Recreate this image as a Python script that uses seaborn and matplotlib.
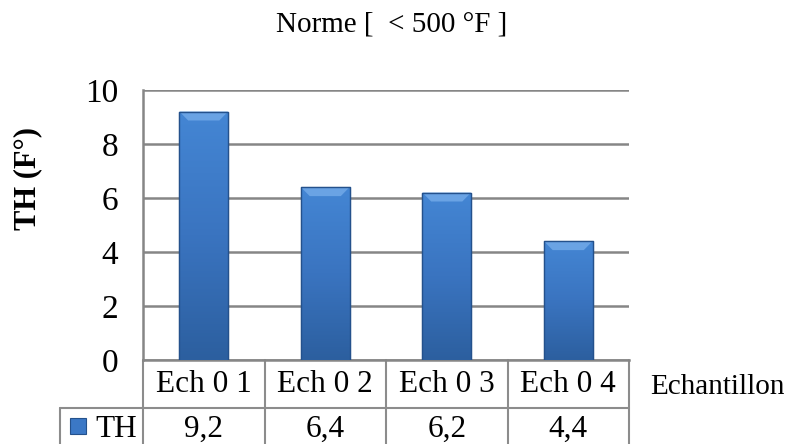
import matplotlib
matplotlib.use("Agg")
import matplotlib.pyplot as plt
import seaborn as sns
import numpy as np
import pandas as pd
from matplotlib.colors import LinearSegmentedColormap

categories = ["Ech 0 1", "Ech 0 2", "Ech 0 3", "Ech 0 4"]
values = [9.2, 6.4, 6.2, 4.4]
value_labels = ["9,2", "6,4", "6,2", "4,4"]
series_name = "TH"
title = "Norme [  < 500 °F ]"
ylabel = "TH (F°)"
xlabel = "Echantillon"
yticks = [0, 2, 4, 6, 8, 10]

sns.set_theme(style="white")
plt.rcParams['font.family'] = ['Liberation Serif', 'DejaVu Serif']
plt.rcParams['text.color'] = 'black'

W, H = 786, 444
fig = plt.figure(figsize=(W / 100, H / 100), dpi=100)
L, R, T, B = 143, 629, 90, 360
ax = fig.add_axes([L / W, 1 - B / H, (R - L) / W, (B - T) / H])

df = pd.DataFrame({"cat": categories, "val": values})
sns.barplot(data=df, x="cat", y="val", color="#3b78c6", width=0.4,
            edgecolor="#24518c", linewidth=0.8, ax=ax, zorder=3)

# gradient fill clipped to each bar
cmap = LinearSegmentedColormap.from_list("g", ["#2c5f9f", "#3a74c0", "#4486d4"])
grad = np.linspace(0, 1, 256).reshape(-1, 1)
for p in list(ax.patches):
    x0, y0 = p.get_x(), p.get_y()
    w, h = p.get_width(), p.get_height()
    im = ax.imshow(grad, cmap=cmap, origin="lower", aspect="auto",
                   extent=[x0, x0 + w, y0, y0 + h], zorder=3.5)
    im.set_clip_path(p)
    # light bevel on top
    ax.fill([x0, x0 + w, x0 + w * 0.82, x0 + w * 0.18],
            [y0 + h, y0 + h, y0 + h - 0.33, y0 + h - 0.33],
            color="#6aa3e4", zorder=3.6, lw=0)
    ax.plot([x0, x0, x0 + w, x0 + w], [y0, y0 + h, y0 + h, y0],
            color="#24518c", lw=1.0, zorder=3.7)
ax.set_xlim(-0.5, 3.5)
ax.set_ylim(0, 10)
ax.set_yticks(yticks)
ax.set_yticklabels([str(t) for t in yticks], fontsize=24)
ax.tick_params(axis="y", length=0, pad=18, labelcolor="black")
ax.set_xticks([])
ax.set_xlabel("")
ax.set_ylabel("")
ax.grid(axis="y", color="#868686", linewidth=1.8, zorder=0)
ax.set_axisbelow(True)
for s in ["top", "right"]:
    ax.spines[s].set_visible(False)
for s in ["left", "bottom"]:
    ax.spines[s].set_color("#868686")
    ax.spines[s].set_linewidth(1.8)

# data table drawn beneath axes (pixel helpers)
def dy(py):
    return (B - py) / (B - T) * 10

def dx(px):
    return -0.5 + (px - L) / (R - L) * 4

lc = "#8c8c8c"
lw = 1.5
for xb in np.arange(-0.5, 4.0, 1.0):
    ax.plot([xb, xb], [0, dy(446)], color=lc, lw=lw, clip_on=False)
ax.plot([dx(60), 3.5], [dy(408), dy(408)], color=lc, lw=lw, clip_on=False)
ax.plot([dx(60), dx(60)], [dy(408), dy(446)], color=lc, lw=lw, clip_on=False)

for i, c in enumerate(categories):
    ax.text(i, dy(384), c, ha="center", va="center", fontsize=22.5, clip_on=False, color="black")
    ax.text(i, dy(429), value_labels[i], ha="center", va="center", fontsize=22.5, clip_on=False, color="black")

# legend key + series name
ax.text(dx(116), dy(429), series_name, ha="center", va="center", fontsize=22.5, clip_on=False, color="black")
fig.patches.append(plt.Rectangle((70 / W, 1 - 434 / H), 16 / W, 16 / H,
                                 transform=fig.transFigure, facecolor="#3b78c6",
                                 edgecolor="#24518c", lw=0.8))

fig.text(650 / W, 1 - 387 / H, xlabel, ha="left", va="center", fontsize=21, color="black")
fig.text(28 / W, 1 - 178 / H, ylabel, ha="center", va="center", rotation=90,
         fontsize=22, fontweight="bold", color="black")
fig.text(392 / W, 1 - 25 / H, title, ha="center", va="center", fontsize=21, color="black")

fig.savefig("out.png", dpi=100)
